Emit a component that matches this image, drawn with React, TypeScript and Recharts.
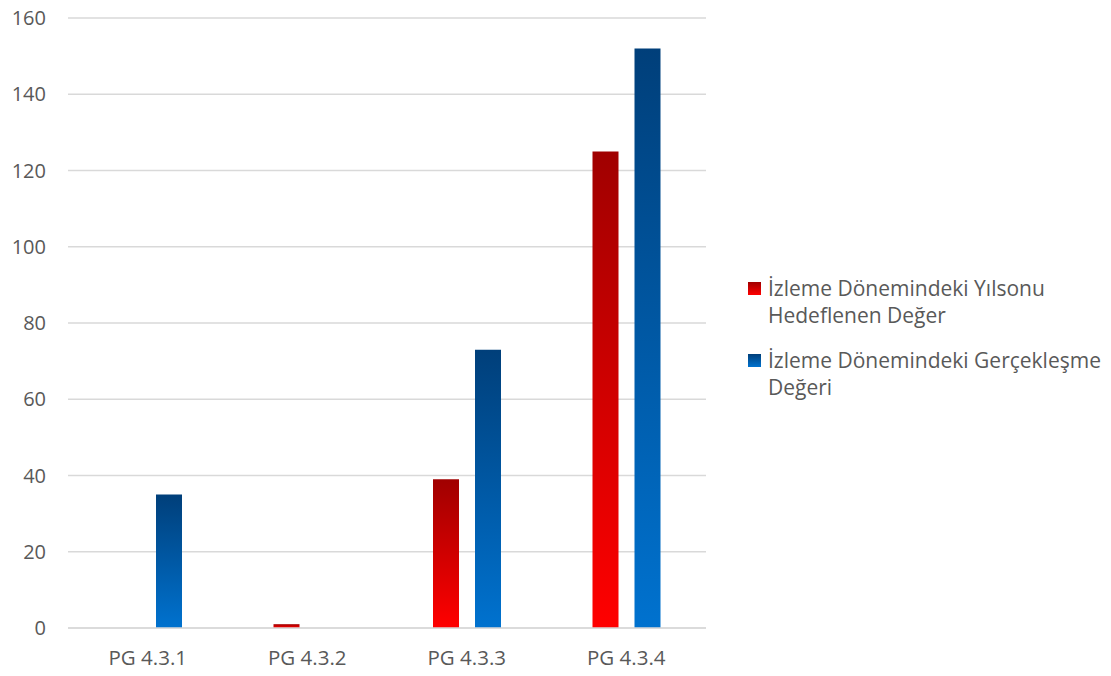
import { BarChart, Bar, XAxis, YAxis, CartesianGrid } from 'recharts'

const categories = ['PG 4.3.1', 'PG 4.3.2', 'PG 4.3.3', 'PG 4.3.4']
const targetValues = [0, 1, 39, 125]
const actualValues = [35, 0, 73, 152]
const yTicks = [0, 20, 40, 60, 80, 100, 120, 140, 160]
const targetLabel = ['İzleme Dönemindeki Yılsonu', 'Hedeflenen Değer']
const actualLabel = ['İzleme Dönemindeki Gerçekleşme', 'Değeri']

const data = categories.map((name, i) => ({
  name,
  target: targetValues[i],
  actual: actualValues[i],
}))

const font = '"Open Sans", sans-serif'
const textColor = '#595959'

function LegendBox() {
  const rows = [
    { label: targetLabel, from: '#a00000', to: '#ff0000' },
    { label: actualLabel, from: '#003f7a', to: '#0072cf' },
  ]
  return (
    <div
      style={{
        position: 'absolute',
        left: 748,
        top: 275,
        fontFamily: font,
        fontSize: 21,
        color: textColor,
        whiteSpace: 'nowrap',
      }}
    >
      {rows.map((r, i) => (
        <div key={i} style={{ display: 'flex', marginBottom: 18 }}>
          <div
            style={{
              width: 13,
              height: 13,
              marginTop: 7,
              marginRight: 7,
              background: `linear-gradient(${r.from}, ${r.to})`,
              flexShrink: 0,
            }}
          />
          <div style={{ lineHeight: '27px' }}>
            {r.label[0]}
            <br />
            {r.label[1]}
          </div>
        </div>
      ))}
    </div>
  )
}

export default function App() {
  return (
    <div style={{ position: 'absolute', left: 0, top: 0, width: 1111, height: 676, background: '#fff' }}>
      <BarChart
        width={1111}
        height={676}
        data={data}
        margin={{ top: 18, right: 405, bottom: 18, left: 0 }}
        barSize={26}
        barGap={16}
      >
        <defs>
          <linearGradient id="redGrad" x1="0" y1="0" x2="0" y2="1">
            <stop offset="0%" stopColor="#a00000" />
            <stop offset="100%" stopColor="#ff0000" />
          </linearGradient>
          <linearGradient id="blueGrad" x1="0" y1="0" x2="0" y2="1">
            <stop offset="0%" stopColor="#003f7a" />
            <stop offset="100%" stopColor="#0072cf" />
          </linearGradient>
        </defs>
        <CartesianGrid vertical={false} stroke="#d9d9d9" strokeWidth={1.5} />
        <XAxis
          dataKey="name"
          height={30}
          stroke="#d9d9d9"
          strokeWidth={1.5}
          tickLine={false}
          tickMargin={16}
          tick={{ fill: textColor, fontSize: 20.5, fontFamily: font }}
        />
        <YAxis
          width={68}
          domain={[0, 160]}
          ticks={yTicks}
          axisLine={false}
          tickLine={false}
          tickMargin={16}
          tick={{ fill: textColor, fontSize: 20, fontFamily: font }}
        />
        <Bar dataKey="target" fill="url(#redGrad)" isAnimationActive={false} />
        <Bar dataKey="actual" fill="url(#blueGrad)" isAnimationActive={false} />
      </BarChart>
      <LegendBox />
    </div>
  )
}
